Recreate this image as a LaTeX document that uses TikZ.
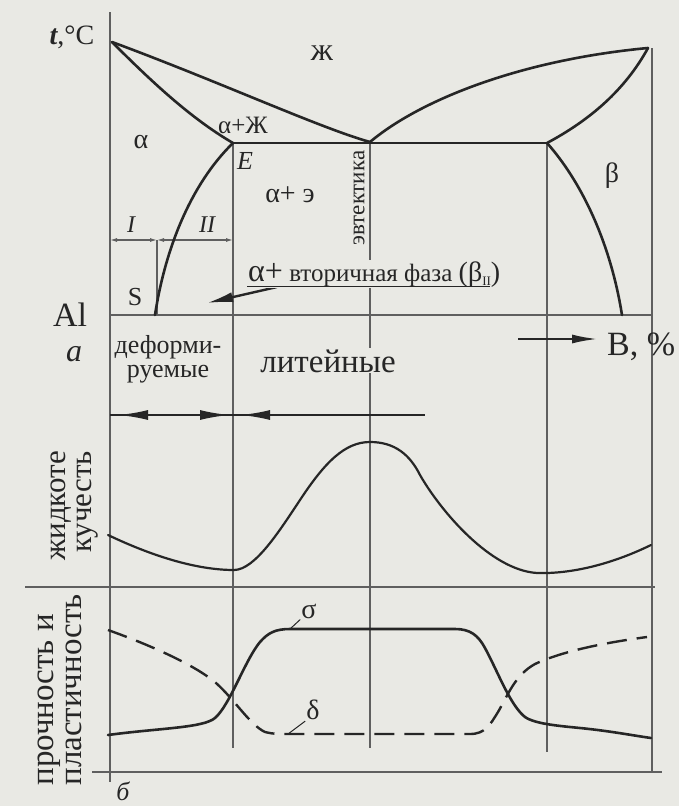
\documentclass[tikz,border=0pt]{standalone}
\usepackage{fontspec}
\setmainfont{Liberation Serif}
\usetikzlibrary{arrows.meta}
\definecolor{bg}{RGB}{233,233,228}
\definecolor{ink}{RGB}{38,38,38}
\definecolor{gline}{RGB}{95,95,95}
\newcommand\fsz[2]{\fontsize{#1}{#2}\selectfont}
\begin{document}
\begin{tikzpicture}[x=1pt,y=-1pt,
  curve/.style={line width=2.6pt,draw=ink,line join=round,line cap=round},
  midcurve/.style={line width=2.2pt,draw=ink,line join=round,line cap=round},
  dashcurve/.style={line width=2.4pt,draw=ink,dash pattern=on 20pt off 10pt},
  guide/.style={line width=1.1pt,draw=gline},
  leader/.style={line width=1pt,draw=ink},
  bigarrow/.style={line width=2.4pt,draw=ink,-{Latex[length=30pt,width=10pt]}},
  smallarrows/.style={{Latex[length=7pt,width=4pt]}-{Latex[length=7pt,width=4pt]}},
  lbl/.style={inner sep=1pt,text=ink},
  lblbg/.style={inner sep=1pt,text=ink,fill=bg},
]
\fill[bg] (0,0) rectangle (679,806);
\useasboundingbox (0,0) rectangle (679,806);

% key points
\coordinate (Atop) at (112,42);
\coordinate (Btop) at (648,48);
\coordinate (Eut) at (370,142);
\coordinate (E) at (233,143);
\coordinate (Rb) at (547,143);
\coordinate (S) at (155,315);
\coordinate (Sb) at (622,315);

% guide lines
\draw[guide] (110,12) -- (110,782);
\draw[guide] (652,48) -- (652,772);
\draw[guide] (110,315) -- (652,315);
\draw[guide] (E) -- (233,748);
\draw[guide] (Eut) -- (370,748);
\draw[guide] (Rb) -- (547,752);
\draw[guide] (25,587) -- (655,587);
\draw[guide] (92,772) -- (662,772);
\coordinate (d0) at (110,240);
\coordinate (d1) at (157,240);
\coordinate (d2) at (233,240);
\coordinate (d1b) at (157,315);
\draw[guide] (d1) -- (d1b);
\draw[guide,smallarrows] (d0) -- (d1);
\draw[guide,smallarrows] (d1) -- (d2);

% phase diagram curves
\draw[curve] (Atop) .. controls (220,82) and (320,128) .. (Eut);
\draw[curve] (Atop) .. controls (150,80) and (190,118) .. (E);
\draw[curve] (E) -- (Rb);
\draw[curve] (E) .. controls (190,185) and (165,250) .. (S);
\draw[curve] (Eut) .. controls (420,100) and (520,60) .. (Btop);
\draw[curve] (Btop) .. controls (625,90) and (590,120) .. (Rb);
\draw[curve] (Rb) .. controls (580,180) and (610,240) .. (Sb);

% fluidity curve
\draw[midcurve] (108,535) .. controls (150,555) and (195,570) .. (234,570)
  .. controls (255,570) and (280,530) .. (300,500)
  .. controls (325,462) and (345,442) .. (370,442)
  .. controls (395,442) and (410,455) .. (420,475)
  .. controls (440,510) and (490,570) .. (537,573)
  .. controls (570,574) and (610,565) .. (651,545);

% strength sigma
\draw[curve] (108,735) .. controls (160,728) and (203,728) .. (215,718)
  .. controls (230,705) and (245,660) .. (260,642)
  .. controls (268,633) and (275,629) .. (290,629)
  -- (455,629)
  .. controls (470,629) and (478,635) .. (485,648)
  .. controls (498,672) and (510,705) .. (525,717)
  .. controls (535,724) and (560,726) .. (580,728)
  .. controls (610,731) and (630,735) .. (651,738);
% plasticity delta
\draw[dashcurve] (108,630) .. controls (150,645) and (195,665) .. (216,683)
  .. controls (235,700) and (250,725) .. (265,732)
  .. controls (272,734) and (280,734) .. (290,734)
  -- (470,734)
  .. controls (485,734) and (490,725) .. (498,712)
  .. controls (508,695) and (515,675) .. (535,664)
  .. controls (565,650) and (610,642) .. (647,637);

% leaders
\node[lbl,font=\fsz{28}{28}] (sig) at (309,611) {σ};
\node[lbl,font=\fsz{28}{28}] (del) at (313,710) {δ};
\coordinate (sigf) at (290,629);
\coordinate (delf) at (288,734);
\draw[leader] (sigf) -- (sig.south west);
\draw[leader] (delf) -- (del.south west);

% arrow row
\coordinate (r0) at (110,415);
\coordinate (r1) at (425,415);
\draw[line width=2pt,draw=ink] (r0) -- (r1);
\coordinate (a1s) at (155,415);
\coordinate (a1e) at (118,415);
\coordinate (a2s) at (190,415);
\coordinate (a2e) at (230,415);
\coordinate (a3s) at (278,415);
\coordinate (a3e) at (240,415);
\draw[bigarrow] (a1s) -- (a1e);
\draw[bigarrow] (a2s) -- (a2e);
\draw[bigarrow] (a3s) -- (a3e);

% arrow to S region
\coordinate (sa0) at (277,287);
\coordinate (sa1) at (207,303);
\draw[bigarrow,-{Latex[length=26pt,width=10pt]}] (sa0) -- (sa1);

% arrow to B
\coordinate (ba0) at (518,339);
\coordinate (ba1) at (598,339);
\draw[bigarrow,-{Latex[length=26pt,width=9pt]}] (ba0) -- (ba1);

% labels
\node[lbl,font=\fsz{28}{28}] (tC) at (72,37) {{\bfseries\itshape t},°C};
\node[lbl,font=\fsz{32}{32}] (liq) at (322,53) {ж};
\node[lbl,font=\fsz{28}{28}] (alf) at (141,142) {α};
\node[lbl,font=\fsz{25}{25}] (aL) at (243,125) {α+Ж};
\node[lbl,font=\fsz{26}{26}] (Elab) at (245,161) {\itshape E};
\node[lbl,font=\fsz{28}{28}] (aE) at (290,195) {α+\ э};
\node[lbl,font=\fsz{24}{24}] (I) at (131,225) {\itshape I};
\node[lbl,font=\fsz{24}{24}] (II) at (207,225) {\itshape II};
\node[lbl,font=\fsz{26}{26}] (Slab) at (135,297) {S};
\node[lbl,font=\fsz{28}{28}] (bet) at (612,176) {β};
\node[lbl,font=\fsz{23}{23},rotate=90] (eut) at (359,198) {эвтектика};
\node[lblbg,anchor=base west,font=\fsz{25}{25}] (sec) at (247,281) {{\fsz{32}{32}α+} вторичная фаза {\fsz{28}{28}(β\raisebox{-4pt}{\fsz{13}{13}II})}};
\coordinate (u0) at (247,286);
\coordinate (u1) at (490,286);
\draw[line width=1pt,draw=ink] (u0) -- (u1);
\node[lbl,font=\fsz{34}{34}] (Al) at (70,315) {Al};
\node[lbl,font=\fsz{32}{32}] (alab) at (74,354) {\itshape a};
\node[lbl,font=\fsz{26}{24},align=center] (def) at (168,359) {деформи-\\руемые};
\node[lblbg,anchor=base,font=\fsz{33}{33}] (lit) at (328,372) {литейные};
\node[lbl,anchor=base west,font=\fsz{34}{34}] (Bp) at (606,355) {B, \%};
\node[lbl,font=\fsz{31}{26},align=right,rotate=90] (fl) at (75,506) {жидкоте\\кучесть};
\node[lbl,font=\fsz{33}{28},align=left,rotate=90] (pl) at (60,690) {прочность и\\пластичность};
\node[lbl,font=\fsz{26}{26}] (bb) at (123,791) {\itshape б};
\end{tikzpicture}
\end{document}
